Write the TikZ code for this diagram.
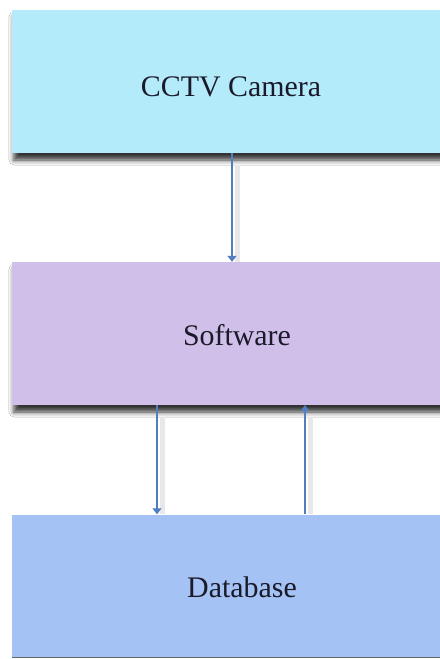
\documentclass[tikz,border=0pt]{standalone}
\usepackage{fontspec}
\setmainfont{Liberation Serif}
\usetikzlibrary{arrows.meta,shadows.blur}
\definecolor{cctvfill}{HTML}{B3EBFA}
\definecolor{softfill}{HTML}{D0BFE8}
\definecolor{dbfill}{HTML}{A4C2F4}
\definecolor{arrcol}{HTML}{4F7FBF}
\definecolor{txtcol}{HTML}{1A1A2A}
\tikzset{
  plainbox/.style={rectangle, draw=none, minimum width=440bp, minimum height=143bp, inner sep=0pt},
  box/.style={plainbox,
    blur shadow={shadow xshift=2bp, shadow yshift=-7bp, shadow blur radius=5bp, shadow opacity=80}},
  lbl/.style={font=\fontsize{30}{34}\selectfont, text=txtcol, inner sep=0pt},
  arr/.style={draw=arrcol, line width=1.3bp, -{Triangle[width=9bp,length=6bp]}},
  arrglow/.style={draw=black!9, line width=5bp},
}
\begin{document}
\begin{tikzpicture}[x=1bp,y=-1bp]
\useasboundingbox (0,0) rectangle (440,659);
\fill[white] (0,0) rectangle (440,659);
% boxes
\node[box, fill=cctvfill] (cam) at (232,81.5) {};
\node[box, fill=softfill] (soft) at (232,333.5) {};
\node[plainbox, fill=dbfill] (db) at (232,586) {};
\draw[black!60, line width=1bp] (db.south west) -- (db.south east);
% labels
\node[lbl] (camt) at (231,87) {CCTV Camera};
\node[lbl] (softt) at (237,335) {Software};
\node[lbl] (dbt) at (242,587) {Database};
% arrow columns
\coordinate (c1) at (232,0);
\coordinate (c2) at (157,0);
\coordinate (c3) at (305,0);
\coordinate (g1) at (237,0);
\coordinate (g2) at (162,0);
\coordinate (g3) at (310,0);
% faint glows
\draw[arrglow] ([yshift=-12bp]cam.south -| g1) -- (soft.north -| g1);
\draw[arrglow] ([yshift=-12bp]soft.south -| g2) -- (db.north -| g2);
\draw[arrglow] ([yshift=-12bp]soft.south -| g3) -- (db.north -| g3);
% arrows
\draw[arr] (cam.south -| c1) -- (soft.north -| c1);
\draw[arr] (soft.south -| c2) -- (db.north -| c2);
\draw[arr] (db.north -| c3) -- (soft.south -| c3);
\end{tikzpicture}
\end{document}
